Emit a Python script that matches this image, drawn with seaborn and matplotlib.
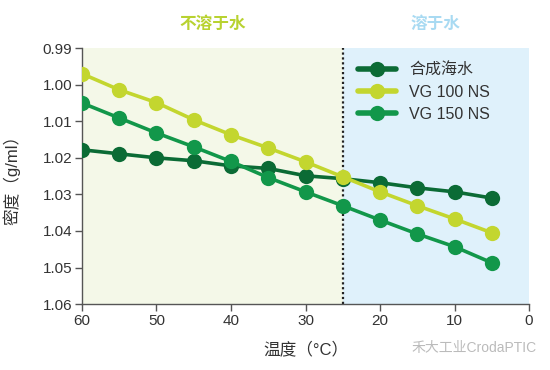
import pandas as pd
import seaborn as sns
import matplotlib.pyplot as plt

# data
temps = [60, 55, 50, 45, 40, 35, 30, 25, 20, 15, 10, 5]
seawater = [1.0178, 1.0189, 1.0200, 1.0208, 1.0222, 1.0229, 1.0249, 1.0257, 1.0268, 1.0282, 1.0293, 1.0310]
vg100 = [0.9970, 1.0014, 1.0049, 1.0096, 1.0137, 1.0173, 1.0211, 1.0252, 1.0293, 1.0331, 1.0367, 1.0405]
vg150 = [1.0050, 1.0091, 1.0132, 1.0170, 1.0210, 1.0254, 1.0293, 1.0331, 1.0370, 1.0408, 1.0443, 1.0487]
series_names = ["合成海水", "VG 100 NS", "VG 150 NS"]
series_colors = ["#0B6B35", "#C3D62F", "#12974A"]
x_ticks = [60, 50, 40, 30, 20, 10, 0]
y_ticks = [0.99, 1.00, 1.01, 1.02, 1.03, 1.04, 1.05, 1.06]

df = pd.concat([
    pd.DataFrame({"temp": temps, "density": vals, "series": name})
    for name, vals in zip(series_names, [seawater, vg100, vg150])
])

sns.set_style("white")
plt.rcParams["font.family"] = ["Liberation Sans", "Noto Sans CJK SC", "DejaVu Sans"]

fig = plt.figure(figsize=(5.5, 3.7), dpi=100)
ax = fig.add_axes([0.149, 0.178, 0.813, 0.692])

# background regions
ax.axvspan(60, 25, color="#F4F8E8", zorder=0, lw=0)
ax.axvspan(25, 0, color="#DFF1FB", zorder=0, lw=0)
ax.axvline(25, color="#222222", ls=(0, (1, 1.2)), lw=1.6, zorder=1)

sns.lineplot(
    data=df, x="temp", y="density", hue="series",
    hue_order=series_names, palette=series_colors,
    marker="o", markersize=11, markeredgewidth=0,
    linewidth=2.6, ax=ax, zorder=3
)

ax.set_xlim(60, 0)
ax.set_ylim(1.06, 0.99)
ax.set_xticks(x_ticks)
ax.set_yticks(y_ticks)
ax.set_yticklabels([f"{v:.2f}" for v in y_ticks])
ax.tick_params(axis="both", direction="out", length=5, width=1, color="#555555",
               labelcolor="#333333", labelsize=11, pad=2, bottom=True, left=True)

for side in ["top", "right"]:
    ax.spines[side].set_visible(False)
for side in ["left", "bottom"]:
    ax.spines[side].set_color("#555555")
    ax.spines[side].set_linewidth(1)

ax.set_xlabel("温度（°C）", fontsize=12, color="#333333", labelpad=10)
ax.set_ylabel("密度（g/ml）", fontsize=12, color="#333333", labelpad=16)

leg = ax.legend(loc="upper left", bbox_to_anchor=(0.585, 1.0), frameon=False,
                fontsize=11.5, handlelength=2.4, labelspacing=0.45, handletextpad=0.8)
for t in leg.get_texts():
    t.set_color("#333333")
for h in leg.get_lines():
    h.set_linewidth(4)

# region labels above plot
ax.text(42.5, 0.9835, "不溶于水", ha="center", va="center", fontsize=12,
        fontweight="bold", color="#B8D230", clip_on=False)
ax.text(12.5, 0.9835, "溶于水", ha="center", va="center", fontsize=12,
        fontweight="bold", color="#A8DAF2", clip_on=False)

fig.text(0.975, 0.06, "禾大工业CrodaPTIC", ha="right", va="center",
         fontsize=10, color="#BBBBBB")

fig.savefig("out.png", dpi=100)
